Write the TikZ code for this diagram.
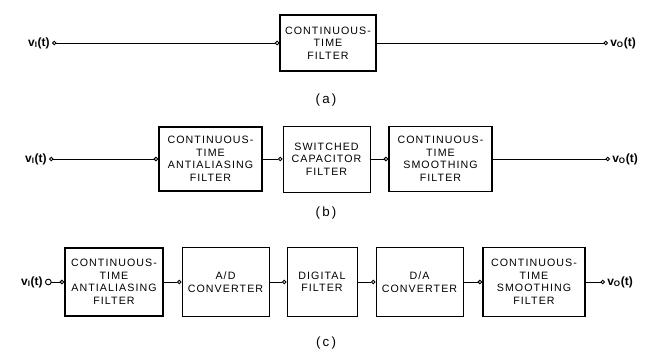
\documentclass[tikz,border=0pt]{standalone}
\usepackage{fontspec}
\setsansfont{Liberation Sans}
\newfontfamily\boxfont[LetterSpace=10]{Liberation Sans}
\usetikzlibrary{arrows.meta}
\begin{document}
\begin{tikzpicture}[x=0.75pt,y=-0.75pt,
  blk/.style 2 args={draw, line width=0.7pt, inner sep=0pt,
    minimum width=#1*0.75pt, minimum height=#2*0.75pt, align=center,
    font=\boxfont\fontsize{8}{9.4}\selectfont},
  heavy/.style={line width=1.2pt},
  conn/.style={line width=0.7pt, -{Circle[open,length=3.4pt,width=3.4pt]}},
  inconn/.style={line width=0.7pt, {Circle[open,length=3.4pt,width=3.4pt]}-{Circle[open,length=3.4pt,width=3.4pt]}},
  bigconn/.style={line width=0.7pt, {Circle[open,length=5pt,width=5pt]}-{Circle[open,length=3.4pt,width=3.4pt]}},
  lab/.style={font=\sffamily\bfseries\fontsize{9}{10}\selectfont, inner sep=1.5pt},
  captxt/.style={font=\sffamily\fontsize{10}{12}\selectfont}
]
\fill[white] (0,0) rectangle (665,351);
\useasboundingbox (0,0) rectangle (665,351);

% ---------- (a)
\node[blk={96}{56}, line width=0.9pt] (fa) at (328,43) {CONTINUOUS-\\TIME\\FILTER};
\coordinate (ai) at (52,43);
\coordinate (ao) at (608,43);
\node[lab, left] (vai) at (ai) {v\textsubscript{I}(t)};
\node[lab, right] (vao) at (ao) {v\textsubscript{O}(t)};
\draw[inconn] (ai) -- (fa.west);
\draw[conn] (fa.east) -- (ao);
\node[captxt] (capa) at (326,100) {(\,a\,)};

% ---------- (b)
\node[blk={103}{64}, heavy] (b1) at (210.5,159) {CONTINUOUS-\\TIME\\ANTIALIASING\\FILTER};
\node[blk={87}{66}] (b2) at (326.5,159) {SWITCHED\\CAPACITOR\\FILTER};
\node[blk={103}{65}, heavy] (b3) at (440.5,159) {CONTINUOUS-\\TIME\\SMOOTHING\\FILTER};
\coordinate (bi) at (49,159);
\coordinate (bo) at (610,159);
\node[lab, left] (vbi) at (bi) {v\textsubscript{I}(t)};
\node[lab, right] (vbo) at (bo) {v\textsubscript{O}(t)};
\draw[inconn] (bi) -- (b1.west);
\draw[conn] (b1.east) -- (b2.west);
\draw[conn] (b2.east) -- (b3.west);
\draw[conn] (b3.east) -- (bo);
\node[captxt] (capb) at (326,213) {(\,b\,)};

% ---------- (c)
\node[blk={98}{68}, heavy] (c1) at (114,282) {CONTINUOUS-\\TIME\\ANTIALIASING\\FILTER};
\node[blk={87}{69}] (c2) at (225.5,282) {A/D\\CONVERTER};
\node[blk={70}{69}] (c3) at (322,282) {DIGITAL\\FILTER};
\node[blk={87}{69}] (c4) at (419.5,282) {D/A\\CONVERTER};
\node[blk={102}{69}, heavy] (c5) at (534,282) {CONTINUOUS-\\TIME\\SMOOTHING\\FILTER};
\coordinate (ci) at (45,282);
\coordinate (co) at (605,282);
\node[lab, left] (vci) at (ci) {v\textsubscript{I}(t)};
\node[lab, right] (vco) at (co) {v\textsubscript{O}(t)};
\draw[bigconn] (ci) -- (c1.west);
\draw[conn] (c1.east) -- (c2.west);
\draw[conn] (c2.east) -- (c3.west);
\draw[conn] (c3.east) -- (c4.west);
\draw[conn] (c4.east) -- (c5.west);
\draw[conn] (c5.east) -- (co);
\node[captxt] (capc) at (326,343) {(\,c\,)};
\end{tikzpicture}
\end{document}
